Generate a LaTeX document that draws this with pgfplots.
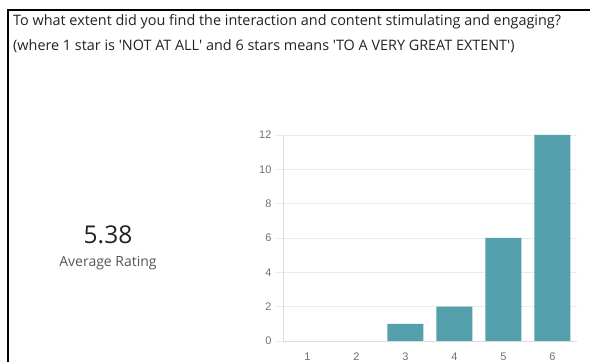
\documentclass[border=0pt]{standalone}
\usepackage{fontspec}
\setmainfont{Open Sans}
\newfontfamily\tickfont{Liberation Sans}
\usepackage{pgfplots}
\pgfplotsset{compat=1.18}
\definecolor{barc}{HTML}{539FAB}
\definecolor{gridc}{HTML}{EBEBEB}
\definecolor{axc}{HTML}{DDDDDD}
\definecolor{tickc}{HTML}{707070}
\definecolor{titc}{HTML}{222222}
\definecolor{subc}{HTML}{555555}
\begin{document}
\begin{tikzpicture}[x=1pt,y=1pt]
\useasboundingbox (0,0) rectangle (590,362);
\draw[line width=2.6pt, miter limit=2] (8,0) -- (8,352) -- (590,352);
\node[anchor=base west, inner sep=0, text=titc, font=\fontsize{14.4}{17}\selectfont] at (13,336) {To what extent did you find the interaction and content stimulating and engaging?};
\node[anchor=base west, inner sep=0, text=titc, font=\fontsize{14.4}{17}\selectfont] at (13,311) {(where 1 star is \textquotesingle NOT AT ALL\textquotesingle{} and 6 stars means \textquotesingle TO A VERY GREAT EXTENT\textquotesingle)};
\node[anchor=center, inner sep=0, text=titc, font=\fontsize{24.5}{28}\selectfont] at (108,127) {5.38};
\node[anchor=center, inner sep=0, text=subc, font=\fontsize{14}{16}\selectfont] at (108,99) {Average Rating};
\begin{axis}[
  at={(283pt,21pt)}, anchor=south west,
  scale only axis, width=294pt, height=206pt,
  xmin=0.5, xmax=6.5, ymin=0, ymax=12,
  xtick={1,2,3,4,5,6}, ytick={0,2,4,6,8,10,12},
  axis lines*=left,
  axis line style={draw=axc, line width=0.9pt},
  ymajorgrids, grid style={draw=gridc, line width=0.8pt},
  tick align=outside, major tick length=8pt,
  ytick style={draw=gridc, line width=0.8pt},
  xtick style={draw=none},
  /pgf/number format/assume math mode=true,
  ticklabel style={font=\tickfont\fontsize{11}{13}\selectfont, text=tickc},
  unbounded coords=discard,
  clip=false,
]
\addplot[ybar, bar width=36pt, fill=barc, draw=none, y filter/.expression={y==0 ? nan : y}] coordinates {(1,0) (2,0) (3,1) (4,2) (5,6) (6,12)};
\end{axis}
\end{tikzpicture}
\end{document}
